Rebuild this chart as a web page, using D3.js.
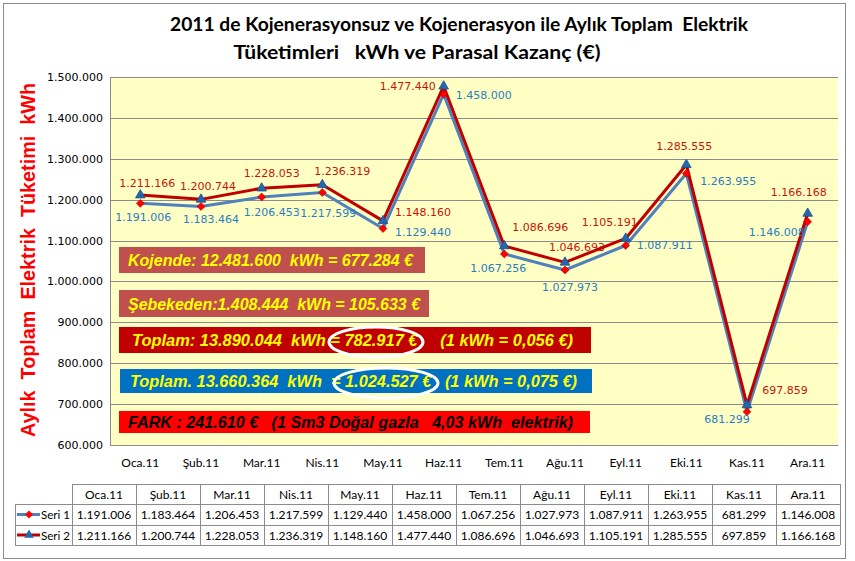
<!DOCTYPE html>
<html><head><meta charset="utf-8">
<script src="https://cdn.jsdelivr.net/npm/d3@7/dist/d3.min.js"></script>
<style>
html,body{margin:0;padding:0;background:#fff;}
svg{display:block;}
text{white-space:pre;}
</style></head>
<body>
<script>
// ---- data ----
const months = ["Oca.11","Şub.11","Mar.11","Nis.11","May.11","Haz.11","Tem.11","Ağu.11","Eyl.11","Eki.11","Kas.11","Ara.11"];
const seri1 = [1191006,1183464,1206453,1217599,1129440,1458000,1067256,1027973,1087911,1263955,681299,1146008];
const seri2 = [1211166,1200744,1228053,1236319,1148160,1477440,1086696,1046693,1105191,1285555,697859,1166168];
const seriesNames = ["Seri 1","Seri 2"];
const yTicks = [600000,700000,800000,900000,1000000,1100000,1200000,1300000,1400000,1500000];
const titleLines = ["2011 de Kojenerasyonsuz ve Kojenerasyon ile Aylık Toplam  Elektrik","Tüketimleri   kWh ve Parasal Kazanç (€)"];
const yTitle = "Aylık  Toplam  Elektrik  Tüketimi  kWh";
const notes = [
  "Kojende: 12.481.600  kWh = 677.284 €",
  "Şebekeden:1.408.444  kWh = 105.633 €",
  "Toplam: 13.890.044  kWh = 782.917 €     (1 kWh = 0,056 €)",
  "Toplam. 13.660.364  kWh  = 1.024.527 €   (1 kWh = 0,075 €)",
  "FARK : 241.610 €   (1 Sm3 Doğal gazla   4,03 kWh  elektrik)"
];

// ---- layout / style ----
const W = 855, H = 561;
const plot = {l:110, r:838, t:77, b:445};
const c1 = "#4F81BD", c2 = "#C00000", lab1 = "#2A7DC4", lab2 = "#C8140A";
// label offsets (dx,dy) relative to point
const off2 = [[7,-12],[7,-13],[10,-15],[20,-14],[40,-9],[-36,0],[36,-19],[12,-15],[-16,-16],[-2,-19],[38,-15],[-9,-21]];
const off1 = [[3,14],[10,13],[10,15],[6,21],[40,4],[40,1],[-6,14],[5,17],[39,0],[42,8],[-20,7],[-31,10]];

const loc = d3.formatLocale({decimal:",",thousands:".",grouping:[3],currency:["","€"]});
const fmt = loc.format(",d");

const svg = d3.select("body").append("svg").attr("width",W).attr("height",H);
svg.append("rect").attr("x",0).attr("y",0).attr("width",W).attr("height",H).attr("fill","#fff");
svg.append("rect").attr("x",3.5).attr("y",3.5).attr("width",842).attr("height",555)
  .attr("fill","none").attr("stroke","#8a8a8a").attr("stroke-width",1);

// title
const tl = [[459,31,578],[417,59,367]];
titleLines.forEach((t,i)=>{
  svg.append("text").attr("x",tl[i][0]).attr("y",tl[i][1]).attr("text-anchor","middle")
    .attr("font-family","Lato, 'Open Sans', sans-serif").attr("font-weight","bold").attr("font-size",18)
    .attr("textLength",tl[i][2]).attr("lengthAdjust","spacingAndGlyphs")
    .attr("fill","#000").text(t);
});

const x = d3.scaleBand().domain(months).range([plot.l,plot.r]);
const y = d3.scaleLinear().domain([600000,1500000]).range([plot.b,plot.t]);
const cx = m => x(m) + x.bandwidth()/2;

// plot area
svg.append("rect").attr("x",plot.l).attr("y",plot.t).attr("width",plot.r-plot.l).attr("height",plot.b-plot.t)
  .attr("fill","#FFFFC4");
svg.append("g").selectAll("line").data(yTicks).join("line")
  .attr("x1",plot.l).attr("x2",plot.r).attr("y1",d=>Math.round(y(d))+0.5).attr("y2",d=>Math.round(y(d))+0.5)
  .attr("stroke","#8c8c8c").attr("stroke-width",1);
svg.append("line").attr("x1",plot.l+0.5).attr("x2",plot.l+0.5).attr("y1",plot.t).attr("y2",plot.b)
  .attr("stroke","#8c8c8c");

// y axis
const yAxis = d3.axisLeft(y).tickValues(yTicks).tickFormat(fmt).tickSize(0).tickPadding(7);
const ya = svg.append("g").attr("transform",`translate(${plot.l},0)`).call(yAxis);
ya.select(".domain").remove();
ya.selectAll("text").attr("font-family","'DejaVu Sans', Verdana, sans-serif").attr("font-size",11).attr("fill","#000");

// x axis
const xAxis = d3.axisBottom(x).tickSize(0).tickPadding(13);
const xa = svg.append("g").attr("transform",`translate(0,${plot.b})`).call(xAxis);
xa.select(".domain").attr("stroke","#8c8c8c");
xa.selectAll("text").attr("font-family","Lato, 'Liberation Sans Narrow', sans-serif").attr("font-size",12).attr("fill","#000");

// y title
svg.append("text").attr("transform","translate(35,260) rotate(-90)").attr("text-anchor","middle")
  .attr("font-family","'Liberation Sans', Arial, sans-serif").attr("font-weight","bold").attr("font-size",20)
  .attr("fill","#FF0000").attr("textLength",354).attr("lengthAdjust","spacingAndGlyphs").text(yTitle);

// note boxes
const boxes = [
  {x:119,y:247,w:306,h:26,fill:"#C0504D",col:"#FFFF00",tx:128,len:285},
  {x:119,y:290,w:310,h:27,fill:"#C0504D",col:"#FFFF00",tx:128,len:292},
  {x:119,y:327,w:472,h:26,fill:"#C00000",col:"#FFFF00",tx:132,len:441},
  {x:120,y:369,w:472,h:24,fill:"#0070C0",col:"#FFFF00",tx:130,len:447},
  {x:119,y:411,w:471,h:22,fill:"#FF0000",col:"#000000",tx:128,len:445}
];
boxes.forEach((b,i)=>{
  svg.append("rect").attr("x",b.x).attr("y",b.y).attr("width",b.w).attr("height",b.h).attr("fill",b.fill);
  svg.append("text").attr("x",b.tx).attr("y",b.y+b.h/2+6)
    .attr("font-family","'Liberation Sans', Arial, sans-serif").attr("font-weight","bold").attr("font-style","italic")
    .attr("font-size",16).attr("fill",b.col).attr("textLength",b.len).attr("lengthAdjust","spacingAndGlyphs")
    .text(notes[i]);
});
[[376,342,47,15],[386,383,52,15]].forEach(e=>{
  svg.append("ellipse").attr("cx",e[0]).attr("cy",e[1]).attr("rx",e[2]).attr("ry",e[3])
    .attr("fill","none").attr("stroke","#fff").attr("stroke-width",3);
});

// lines
const line = d3.line().x((d,i)=>cx(months[i])).y(d=>y(d));
svg.append("path").datum(seri1).attr("d",line).attr("fill","none").attr("stroke",c1).attr("stroke-width",3).attr("stroke-linejoin","round");
svg.append("path").datum(seri2).attr("d",line).attr("fill","none").attr("stroke",c2).attr("stroke-width",3).attr("stroke-linejoin","round");

const diamond = d3.symbol().type(d3.symbolDiamond2).size(40);
const tri = d3.symbol().type(d3.symbolTriangle).size(40);
svg.append("g").selectAll("path").data(seri2).join("path")
  .attr("transform",(d,i)=>`translate(${cx(months[i])},${y(d)})`).attr("d",tri)
  .attr("fill","#2268B0").attr("stroke","#1a4f88").attr("stroke-width",0.8);
svg.append("g").selectAll("path").data(seri1).join("path")
  .attr("transform",(d,i)=>`translate(${cx(months[i])},${y(d)})`).attr("d",diamond)
  .attr("fill","#FF0000").attr("stroke","#c00000").attr("stroke-width",0.6);

// data labels
function labels(data, off, col){
  svg.append("g").selectAll("text").data(data).join("text")
    .attr("x",(d,i)=>cx(months[i])+off[i][0]).attr("y",(d,i)=>y(d)+off[i][1]).attr("dy","0.36em")
    .attr("text-anchor","middle").attr("font-family","'DejaVu Sans', Verdana, sans-serif").attr("font-size",11)
    .attr("fill",col).text(d=>fmt(d));
}
labels(seri2, off2, lab2);
labels(seri1, off1, lab1);

// data table
const tb = {l:15, c0:72, top:484, rh:[20,21,20]};
const colW = (840-tb.c0)/months.length;
const tx = d3.scaleBand().domain(months).range([tb.c0,840]);
const rowY = [tb.top, tb.top+tb.rh[0], tb.top+tb.rh[0]+tb.rh[1], tb.top+tb.rh[0]+tb.rh[1]+tb.rh[2]];
const gT = svg.append("g").attr("stroke","#8c8c8c").attr("stroke-width",1);
gT.append("line").attr("x1",tb.c0).attr("x2",840).attr("y1",rowY[0]+0.5).attr("y2",rowY[0]+0.5);
[1,2,3].forEach(r=>gT.append("line").attr("x1",tb.l).attr("x2",840).attr("y1",rowY[r]+0.5).attr("y2",rowY[r]+0.5));
gT.append("line").attr("x1",tb.l+0.5).attr("x2",tb.l+0.5).attr("y1",rowY[1]).attr("y2",rowY[3]);
months.concat(["end"]).forEach((m,i)=>{
  const xx = Math.round(tb.c0 + i*colW)+0.5;
  gT.append("line").attr("x1",xx).attr("x2",xx).attr("y1",rowY[0]).attr("y2",rowY[3]);
});
const tFont = "Lato, 'Liberation Sans Narrow', sans-serif";
svg.append("g").selectAll("text").data(months).join("text")
  .attr("x",m=>tx(m)+tx.bandwidth()/2).attr("y",rowY[0]+14.5).attr("text-anchor","middle")
  .attr("font-family",tFont).attr("font-size",12).attr("fill","#000").text(m=>m);
[seri1,seri2].forEach((s,r)=>{
  svg.append("g").selectAll("text").data(s).join("text")
    .attr("x",(d,i)=>tx(months[i])+tx.bandwidth()/2).attr("y",rowY[r+1]+15).attr("text-anchor","middle")
    .attr("font-family",tFont).attr("font-size",12).attr("fill","#000").text(d=>fmt(d));
  const ly = rowY[r+1] + (rowY[r+2]-rowY[r+1])/2;
  svg.append("line").attr("x1",17).attr("x2",40).attr("y1",ly).attr("y2",ly)
    .attr("stroke", r===0?c1:c2).attr("stroke-width",3);
  svg.append("path").attr("transform",`translate(29,${ly})`).attr("d", r===0?diamond:tri)
    .attr("fill", r===0?"#FF0000":"#2268B0");
  svg.append("text").attr("x",41).attr("y",rowY[r+1]+15).attr("font-family",tFont).attr("font-size",11.5)
    .attr("fill","#000").attr("textLength",29).attr("lengthAdjust","spacingAndGlyphs").text(seriesNames[r]);
});
</script>
</body></html>
